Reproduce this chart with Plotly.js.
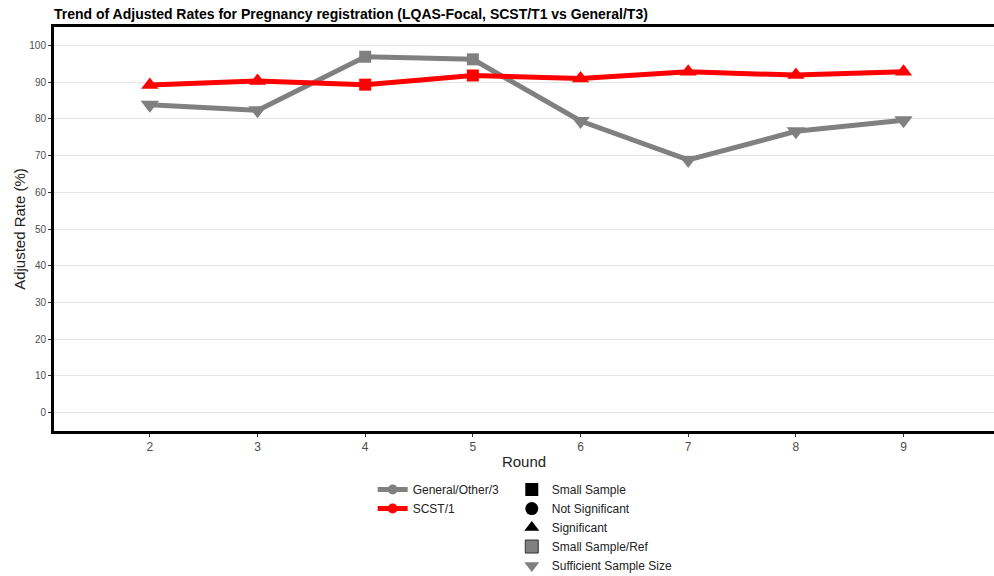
<!DOCTYPE html>
<html>
<head>
<meta charset="utf-8">
<script src="https://cdn.plot.ly/plotly-3.0.1.min.js"></script>
<style>html,body{margin:0;padding:0;background:#fff;}#chart{width:994px;height:576px;}</style>
</head>
<body>
<div id="chart"></div>
<script>
// Data
const rounds = [2, 3, 4, 5, 6, 7, 8, 9];
const generalRates = [83.8, 82.3, 96.9, 96.2, 79.4, 68.8, 76.6, 79.6];
const generalShapes = ["Sufficient Sample Size", "Sufficient Sample Size", "Small Sample", "Small Sample", "Sufficient Sample Size", "Sufficient Sample Size", "Sufficient Sample Size", "Sufficient Sample Size"];
const scstRates = [89.2, 90.3, 89.3, 91.8, 91.0, 92.8, 91.9, 92.8];
const scstShapes = ["Significant", "Significant", "Small Sample", "Small Sample", "Significant", "Significant", "Significant", "Significant"];
const yTicks = [0, 10, 20, 30, 40, 50, 60, 70, 80, 90, 100];
const shapeLegend = ["Small Sample", "Not Significant", "Significant", "Small Sample/Ref", "Sufficient Sample Size"];

const symbolMap = {
  "Small Sample": "square",
  "Not Significant": "circle",
  "Significant": "triangle-up",
  "Small Sample/Ref": "square",
  "Sufficient Sample Size": "triangle-down"
};
const sizeMap = {
  "Small Sample": 12,
  "Not Significant": 12,
  "Significant": 15,
  "Small Sample/Ref": 12,
  "Sufficient Sample Size": 16
};
const legendShapeStyle = {
  "Small Sample": {color: "#000000", line: {color: "#000000", width: 0}},
  "Not Significant": {color: "#000000", line: {color: "#000000", width: 0}},
  "Significant": {color: "#000000", line: {color: "#000000", width: 0}},
  "Small Sample/Ref": {color: "#808080", line: {color: "#333333", width: 1}},
  "Sufficient Sample Size": {color: "#808080", line: {color: "#808080", width: 0}}
};

const GRAY = "#808080", RED = "#ff0000";
const font = "Liberation Sans, Arial, sans-serif";

const traces = [
  {
    x: rounds, y: generalRates, type: "scatter", mode: "lines+markers",
    line: {color: GRAY, width: 5},
    marker: {color: GRAY, opacity: 1, size: generalShapes.map(s => sizeMap[s]), symbol: generalShapes.map(s => symbolMap[s]), line: {width: 0}},
    showlegend: false, hoverinfo: "x+y"
  },
  {
    x: rounds, y: scstRates, type: "scatter", mode: "lines+markers",
    line: {color: RED, width: 5},
    marker: {color: RED, opacity: 1, size: scstShapes.map(s => sizeMap[s]), symbol: scstShapes.map(s => symbolMap[s]), line: {width: 0}},
    showlegend: false, hoverinfo: "x+y"
  },
  {
    x: [null], y: [null], type: "scatter", mode: "lines+markers", name: "General/Other/3",
    line: {color: GRAY, width: 5}, marker: {color: GRAY, opacity: 1, size: 10, symbol: "circle", line: {width: 0}}, legend: "legend"
  },
  {
    x: [null], y: [null], type: "scatter", mode: "lines+markers", name: "SCST/1",
    line: {color: RED, width: 5}, marker: {color: RED, opacity: 1, size: 10, symbol: "circle", line: {width: 0}}, legend: "legend"
  }
];
shapeLegend.forEach(s => {
  traces.push({
    x: [null], y: [null], type: "scatter", mode: "markers", name: s,
    marker: Object.assign({size: 13, opacity: 1, symbol: symbolMap[s]}, legendShapeStyle[s]),
    legend: "legend2"
  });
});

const layout = {
  width: 994, height: 576,
  paper_bgcolor: "#ffffff", plot_bgcolor: "#ffffff",
  margin: {l: 54, r: 0, t: 27, b: 145, autoexpand: false},
  font: {family: font, color: "#222222"},
  title: {
    text: "<b>Trend of Adjusted Rates for Pregnancy registration (LQAS-Focal, SCST/T1 vs General/T3)</b>",
    font: {size: 14, color: "#000000", family: font},
    xref: "paper", x: 0, xanchor: "left",
    yref: "container", y: 1 - 14/576, yanchor: "middle"
  },
  xaxis: {
    range: [1.11, 9.84],
    tickvals: rounds, ticktext: rounds.map(String),
    showgrid: false, zeroline: false,
    showline: true, linecolor: "#000000", linewidth: 3, mirror: true,
    ticks: "outside", ticklen: 3, tickcolor: "#333333",
    tickfont: {size: 12, color: "#4d4d4d", family: font},
    title: {text: "Round", font: {size: 15, color: "#222222", family: font}, standoff: 4}
  },
  yaxis: {
    range: [-5, 105],
    tickvals: yTicks, ticktext: yTicks.map(String),
    showgrid: true, gridcolor: "#e5e5e5", gridwidth: 1, zeroline: false,
    showline: true, linecolor: "#000000", linewidth: 3,
    ticks: "outside", ticklen: 3, tickcolor: "#333333",
    tickfont: {size: 10, color: "#4d4d4d", family: font},
    title: {text: "Adjusted Rate (%)", font: {size: 15, color: "#222222", family: font}, standoff: 1}
  },
  legend: {
    x: 0.339, xanchor: "left", y: -0.109, yanchor: "top",
    font: {size: 12, color: "#222222", family: font},
    bgcolor: "rgba(0,0,0,0)", tracegroupgap: 0, itemwidth: 30
  },
  legend2: {
    x: 0.487, xanchor: "left", y: -0.109, yanchor: "top",
    font: {size: 12, color: "#222222", family: font},
    bgcolor: "rgba(0,0,0,0)", tracegroupgap: 0, itemwidth: 30
  },
  hovermode: "closest"
};

Plotly.newPlot("chart", traces, layout, {displayModeBar: false, responsive: false});
</script>
</body>
</html>
